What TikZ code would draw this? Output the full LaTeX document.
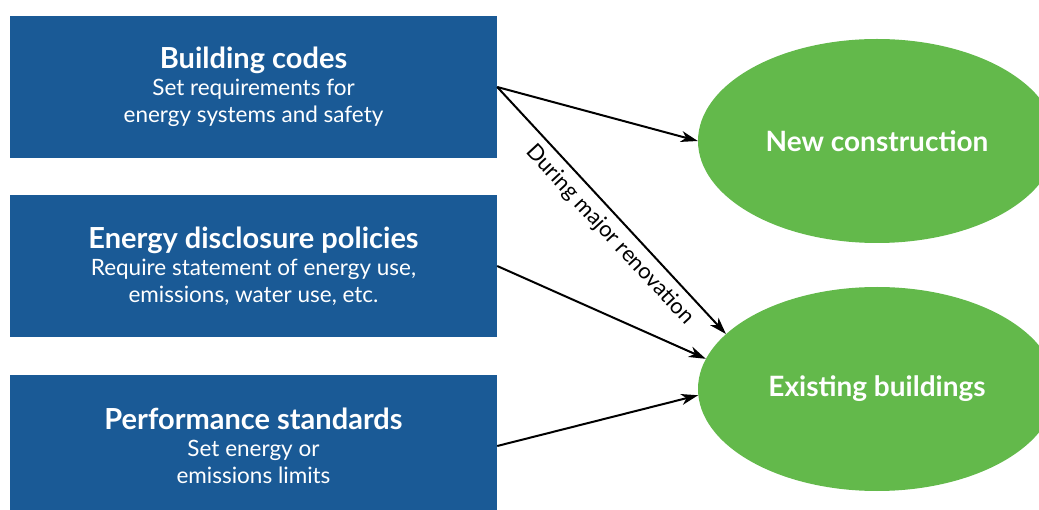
\documentclass[tikz,border=0pt]{standalone}
\usepackage{fontspec}
\setmainfont{Lato}
\usetikzlibrary{shapes.geometric,arrows.meta}
\definecolor{policyblue}{HTML}{1A5A96}
\definecolor{targetgreen}{HTML}{63B94B}
\begin{document}
\begin{tikzpicture}[x=1pt,y=-1pt,
  policy/.style={rectangle, fill=policyblue, text=white, minimum width=487pt,
    minimum height=142pt, align=center, inner sep=0pt,
    font=\fontsize{22.5}{27}\selectfont},
  target/.style={ellipse, fill=targetgreen, text=white, minimum width=358pt,
    minimum height=204pt, inner sep=0pt, font=\bfseries\fontsize{28}{30}\selectfont},
  link/.style={line width=2pt, -{Stealth[length=17pt,width=11pt,inset=5pt]}},
  linklabel/.style={font=\fontsize{22}{24}\selectfont, inner sep=7pt}]
\clip (0,0) rectangle (1039,510);
\useasboundingbox (0,0) rectangle (1039,510);

% policy boxes
\node[policy] (codes) at (253.5,87)
  {{\bfseries\fontsize{29}{27}\selectfont Building codes}\\Set requirements for\\energy systems and safety};
\node[policy] (disc) at (253.5,266)
  {{\bfseries\fontsize{29}{27}\selectfont Energy disclosure policies}\\Require statement of energy use,\\emissions, water use, etc.};
\node[policy] (perf) at (253.5,446)
  {{\bfseries\fontsize{29}{27}\selectfont Performance standards}\\Set energy or\\emissions limits};

% building categories
\node[target] (new) at (877,141) {New construction};
\node[target] (exist) at (877,389) {Existing buildings};

% connectors
\draw[link] (codes.east) -- (new.west);
\draw[link] (codes.east) -- (exist.160.4)
  node[pos=0.55, sloped, below, linklabel] {During major renovation};
\draw[link] (disc.east) -- (exist.170.9);
\draw[link] (perf.east) -- (exist.182);
\end{tikzpicture}
\end{document}
